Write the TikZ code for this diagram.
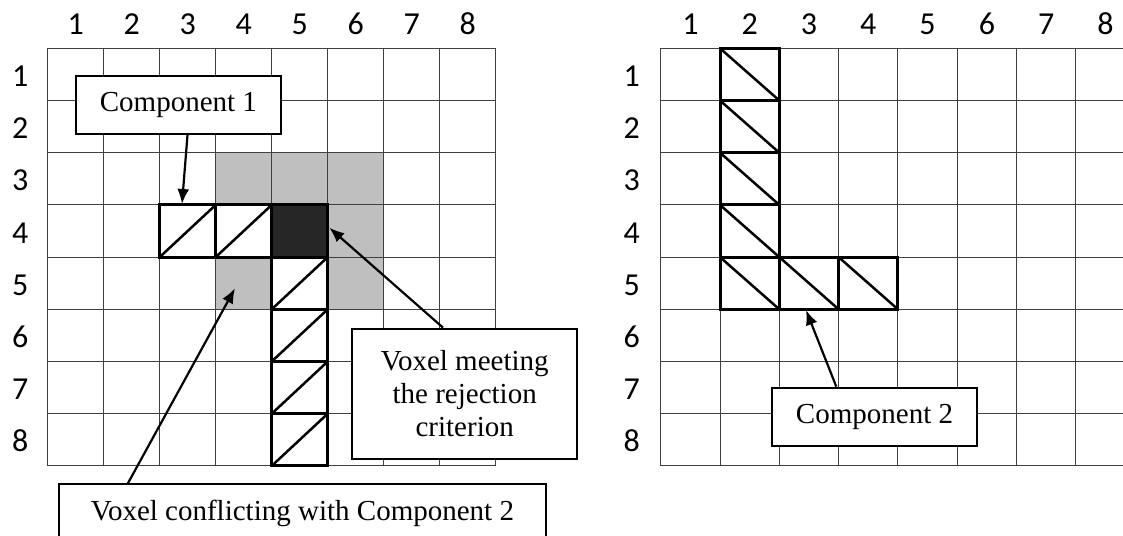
\documentclass[tikz,border=0pt]{standalone}
\usepackage{fontspec}
\setmainfont{Liberation Serif}
\newfontfamily\numfont{Carlito}
\usetikzlibrary{arrows.meta}

\begin{document}
\begin{tikzpicture}[x=1pt,y=-1pt,
  gridline/.style={black!75,line width=1pt},
  voxel/.style={line width=3pt,line join=miter},
  hatch/.style={line width=2.5pt},
  callout/.style={draw,line width=2pt,fill=white,align=center,inner sep=0pt,
    font=\fontsize{29}{33}\selectfont},
  arr/.style={line width=2.2pt,-{Latex[length=15pt,width=12pt]}},
  num/.style={inner sep=0pt,text height=20pt,text depth=0pt,
    font=\numfont\fontsize{32}{36}\selectfont}]
\useasboundingbox (0,0) rectangle (1123,535);
\clip (0,0) rectangle (1123,535);

% left grid: component 1 and its neighbourhood
\begin{scope}[shift={(47.7,48.3)},x=56pt,y=-52.2pt]
\fill[black!25] (3,2) rectangle (6,3) (5,3) rectangle (6,5) (3,4) rectangle (4,5);
\foreach \i in {0,...,8} \draw[gridline] (\i,0)--(\i,8) (0,\i)--(8,\i);
\foreach \i in {1,...,8} {
  \node[num] (lcol\i) at (\i-0.5,-0.45) {\i};
  \node[num] (lrow\i) at (-0.49,\i-0.46) {\i};
}
\foreach \c/\r in {3/4,4/4,5/5,5/6,5/7,5/8} {
  \draw[voxel] (\c-1,\r-1) rectangle (\c,\r);
  \draw[hatch] (\c-1,\r)--(\c,\r-1);
}
\filldraw[voxel,fill=black!85] (4,3) rectangle (5,4);
\end{scope}

% right grid: component 2
\begin{scope}[shift={(660.7,48.3)},x=59.3pt,y=-52.2pt]
\foreach \i in {0,...,8} \draw[gridline] (\i,0)--(\i,8) (0,\i)--(8,\i);
\foreach \i in {1,...,8} {
  \node[num] (rcol\i) at (\i-0.5,-0.45) {\i};
  \node[num] (rrow\i) at (-0.49,\i-0.46) {\i};
}
\foreach \c/\r in {2/1,2/2,2/3,2/4,2/5,3/5,4/5} {
  \draw[voxel] (\c-1,\r-1) rectangle (\c,\r);
  \draw[hatch] (\c-1,\r-1)--(\c,\r);
}
\end{scope}

% callouts
\node[callout,minimum width=204.7pt,minimum height=58pt] (comp1) at (178.4,105) {Component 1};
\node[callout,minimum width=225.3pt,minimum height=130.3pt] (crit) at (464.7,393.8) {Voxel meeting\\the rejection\\criterion};
\node[callout,minimum width=486.7pt,minimum height=58pt] (confl) at (302.4,513.3) {Voxel conflicting with Component 2};
\node[callout,minimum width=204.4pt,minimum height=58.3pt] (comp2) at (874.5,416.8) {Component 2};

\coordinate (c1tip) at (182,204);
\coordinate (crittip) at (329.3,227.7);
\coordinate (confltip) at (235,288.3);
\coordinate (c2tip) at (806,310);

\draw[arr] ([xshift=9.1pt]comp1.south)--(c1tip);
\draw[arr] ([xshift=-21.7pt]crit.north)--(crittip);
\draw[arr] ([xshift=-174.5pt]confl.north)--(confltip);
\draw[arr] ([xshift=-38.2pt]comp2.north)--(c2tip);
\end{tikzpicture}
\end{document}
